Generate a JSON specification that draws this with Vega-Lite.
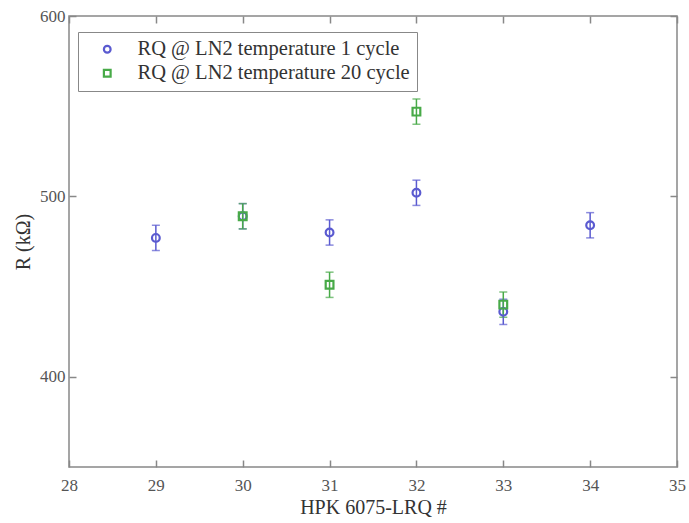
{
  "$schema": "https://vega.github.io/schema/vega-lite/v6.json",
  "width": 608,
  "height": 451,
  "autosize": "none",
  "padding": {"left": 69, "top": 16, "right": 12, "bottom": 56},
  "background": "white",
  "config": {
    "font": "Liberation Serif",
    "view": {"stroke": "#888888", "strokeWidth": 1.5},
    "axis": {
      "grid": false,
      "domain": false,
      "ticks": true,
      "tickSize": -7,
      "tickColor": "#888888",
      "tickWidth": 1.5,
      "labelFont": "Liberation Serif",
      "labelFontSize": 17,
      "labelColor": "#555555",
      "titleFont": "Liberation Serif",
      "titleFontSize": 20,
      "titleFontWeight": "normal",
      "titleColor": "#333333"
    },
    "legend": {
      "labelFont": "Liberation Serif",
      "labelFontSize": 20.5,
      "labelColor": "#333333"
    }
  },
  "data": {
    "values": [
      {"series": "1 cycle", "sample": 29, "R": 477, "lo": 470, "hi": 484},
      {"series": "1 cycle", "sample": 30, "R": 489, "lo": 482, "hi": 496},
      {"series": "1 cycle", "sample": 31, "R": 480, "lo": 473, "hi": 487},
      {"series": "1 cycle", "sample": 32, "R": 502, "lo": 495, "hi": 509},
      {"series": "1 cycle", "sample": 33, "R": 436, "lo": 429, "hi": 443},
      {"series": "1 cycle", "sample": 34, "R": 484, "lo": 477, "hi": 491},
      {"series": "20 cycle", "sample": 30, "R": 489, "lo": 482, "hi": 496},
      {"series": "20 cycle", "sample": 31, "R": 451, "lo": 444, "hi": 458},
      {"series": "20 cycle", "sample": 32, "R": 547, "lo": 540, "hi": 554},
      {"series": "20 cycle", "sample": 33, "R": 440, "lo": 433, "hi": 447}
    ]
  },
  "resolve": {"axis": {"x": "independent", "y": "independent"}, "legend": {"color": "independent", "shape": "independent"}},
  "layer": [
    {
      "mark": {"type": "errorbar", "ticks": {"size": 8}, "thickness": 1.5},
      "encoding": {
        "x": {"field": "sample", "type": "quantitative", "scale": {"domain": [28, 35], "nice": false},
              "axis": {"values": [28, 29, 30, 31, 32, 33, 34, 35], "title": "HPK 6075-LRQ #", "labelPadding": 17, "titlePadding": 4, "labelFlush": false}},
        "y": {"field": "lo", "type": "quantitative", "scale": {"domain": [350, 600], "nice": false, "zero": false},
              "axis": {"values": [400, 500, 600], "title": "R (kΩ)", "labelPadding": 11, "titlePadding": 6}},
        "y2": {"field": "hi"},
        "color": {"field": "series", "type": "nominal", "scale": {"domain": ["1 cycle", "20 cycle"], "range": ["#5a5ad0", "#48aa48"]}, "legend": null}
      }
    },
    {
      "mark": {"type": "point", "filled": false, "strokeWidth": 2.2, "opacity": 1},
      "encoding": {
        "x": {"field": "sample", "type": "quantitative", "axis": {"orient": "top", "labels": false, "title": null, "values": [28, 29, 30, 31, 32, 33, 34, 35]}},
        "y": {"field": "R", "type": "quantitative", "axis": {"orient": "right", "labels": false, "title": null, "values": [400, 500, 600]}},
        "color": {"field": "series", "type": "nominal",
                  "legend": {
                    "orient": "none",
                    "legendX": 9,
                    "legendY": 16,
                    "title": null,
                    "padding": 7,
                    "rowPadding": 3,
                    "strokeColor": "#888888",
                    "fillColor": "white",
                    "symbolStrokeWidth": 2.2,
                    "symbolSize": 45,
                    "symbolOffset": 12,
                    "labelLimit": 0,
                    "labelExpr": "datum.label == '1 cycle' ? 'RQ @ LN2 temperature 1 cycle' : 'RQ @ LN2 temperature 20 cycle'",
                    "labelOffset": 20
                  }},
        "shape": {"field": "series", "type": "nominal", "scale": {"domain": ["1 cycle", "20 cycle"], "range": ["circle", "square"]}},
        "size": {"value": 60}
      }
    }
  ]
}
